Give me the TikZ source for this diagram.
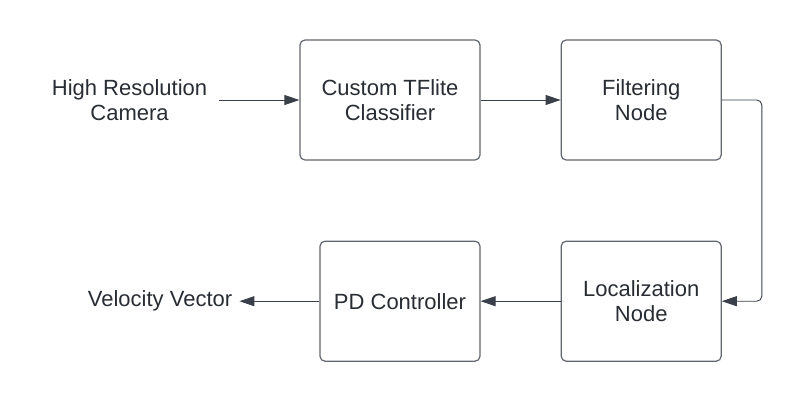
\documentclass[tikz,border=0pt]{standalone}
\usepackage{fontspec}
\setmainfont{Liberation Sans}
\usepackage{xcolor}
\usepackage{tikz}
\usetikzlibrary{arrows.meta, positioning}
\definecolor{boxgray}{RGB}{98, 102, 110}
\definecolor{linedark}{RGB}{58, 64, 74}
\definecolor{textdark}{RGB}{40, 44, 51}

\tikzset{
    stagebox/.style={draw=boxgray, line width=1.2pt, rounded corners=5pt,
        minimum width=160pt, minimum height=120pt, align=center,
        text=textdark, font=\fontsize{22}{25}\selectfont},
    freelabel/.style={align=center, text=textdark, font=\fontsize{22}{25}\selectfont},
    flow/.style={draw=linedark, line width=0.9pt, -{Triangle[length=15pt, width=10pt]}}
}

\begin{document}
\begin{tikzpicture}[x=1pt, y=-1pt]
    \useasboundingbox (0,0) rectangle (801,400);

    % top row
    \node[stagebox, minimum width=180pt] (classifier) at (390,100) {Custom TFlite\\Classifier};
    \node[stagebox, right=80pt of classifier] (filtering) {Filtering\\Node};
    \node[freelabel, inner sep=12pt, left=80pt of classifier] (camera) {High Resolution\\Camera};

    % bottom row
    \node[stagebox, below=80pt of filtering] (localization) {Localization\\Node};
    \node[stagebox, left=80pt of localization] (pdctrl) {PD Controller};
    \node[freelabel, inner sep=7pt, left=80pt of pdctrl] (velocity) {Velocity Vector};

    % connectors
    \draw[flow] (camera) -- (classifier);
    \draw[flow] (classifier) -- (filtering);
    \draw[flow, rounded corners=5pt] (filtering.east) -- ++(40,0) |- (localization.east);
    \draw[flow] (localization) -- (pdctrl);
    \draw[flow] (pdctrl) -- (velocity);
\end{tikzpicture}
\end{document}
